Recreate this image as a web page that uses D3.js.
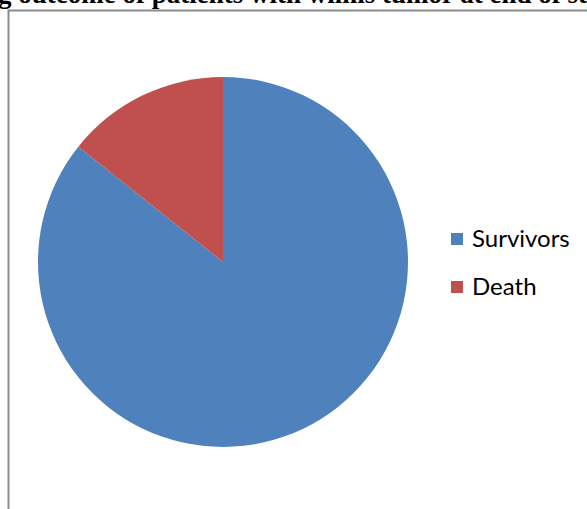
<!DOCTYPE html>
<html><head><meta charset="utf-8">
<script src="https://cdn.jsdelivr.net/npm/d3@7"></script>
<style>html,body{margin:0;padding:0;background:#fff;overflow:hidden}</style>
</head><body>
<svg id="c" width="587" height="509"></svg>
<script>
const categories = ["Survivors", "Death"];
const values = [36, 6];
const colors = ["#4F81BD", "#C0504D"];
const titleText = "Following outcome of patients with wilms tumor at end of study";

const svg = d3.select("#c");
// frame
svg.append("path").attr("d", "M8.5,509 V10.5 H587")
  .attr("fill", "none").attr("stroke", "#8c8c8c").attr("stroke-width", 2);

// title (cropped at top, as in the reference)
const t = svg.append("text").attr("y", 3)
  .attr("font-family", "Liberation Serif").attr("font-weight", "bold")
  .attr("font-size", 27).attr("fill", "#000").text(titleText);
const off = t.node().getSubStringLength(0, titleText.indexOf("g outcome"));
t.attr("x", -2 - off);

// pie
const cx = 223, cy = 262, r = 185;
const pie = d3.pie().sort(null);
const arc = d3.arc().innerRadius(0).outerRadius(r);
const g = svg.append("g").attr("transform", `translate(${cx},${cy})`);
g.selectAll("path").data(pie(values)).join("path")
  .attr("d", arc).attr("fill", (d, i) => colors[i]);

// legend
const lg = svg.append("g");
categories.forEach((c, i) => {
  const y = 233 + i * 48;
  lg.append("rect").attr("x", 451).attr("y", y).attr("width", 12).attr("height", 12).attr("fill", colors[i]);
  lg.append("text").attr("x", 472).attr("y", y + 14).attr("font-family", "Lato")
    .attr("font-size", 24).attr("fill", "#000").text(c);
});
</script>
</body></html>
